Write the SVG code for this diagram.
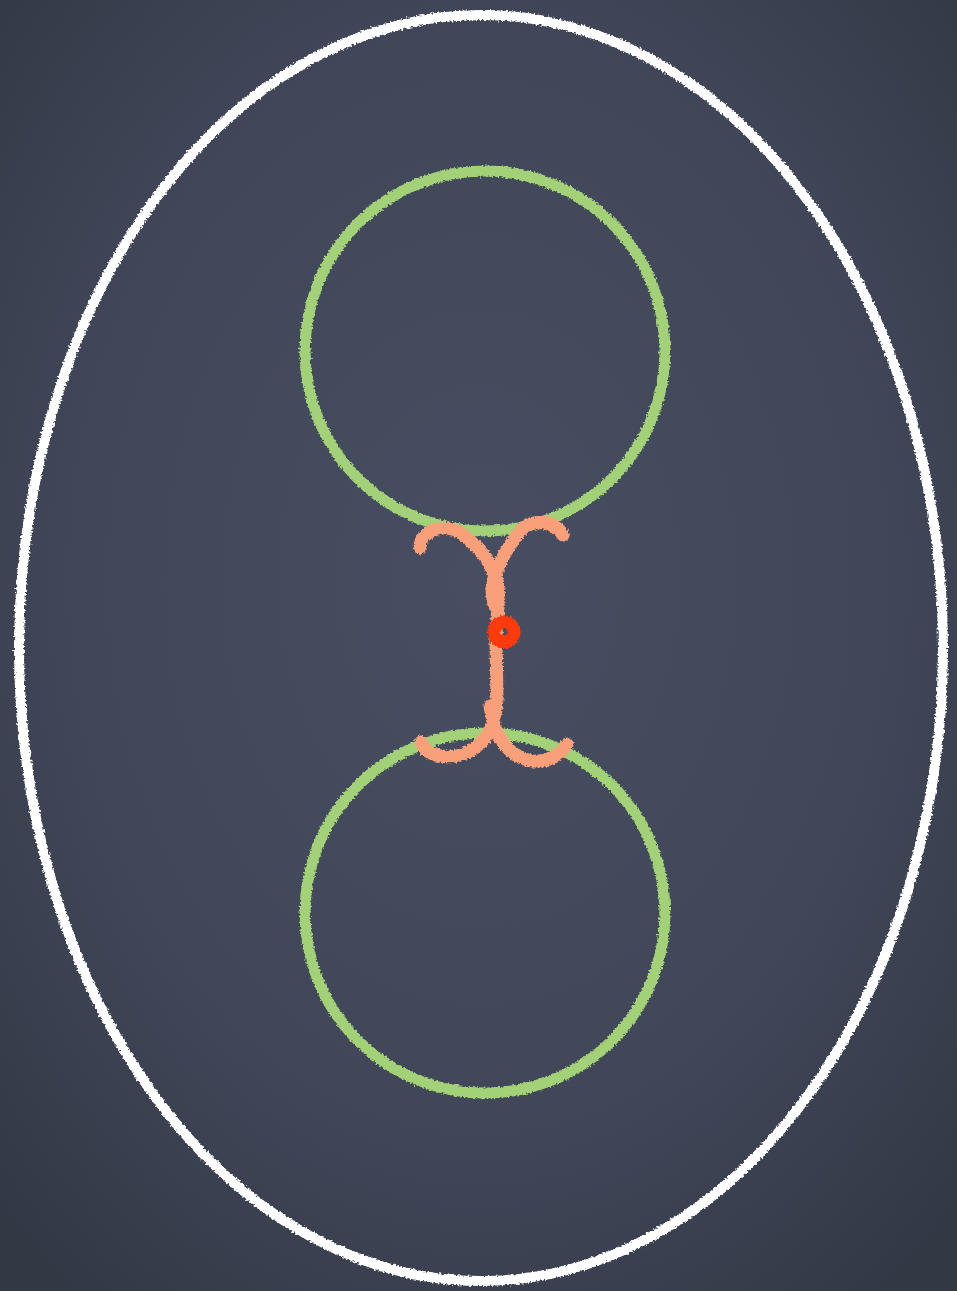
<svg xmlns="http://www.w3.org/2000/svg" width="957" height="1291" viewBox="0 0 957 1291">
  <defs>
    <radialGradient id="bg" cx="50%" cy="45%" r="70%">
      <stop offset="0" stop-color="#474e61"/>
      <stop offset="0.6" stop-color="#414759"/>
      <stop offset="1" stop-color="#333845"/>
    </radialGradient>
    <filter id="chalk" filterUnits="userSpaceOnUse" x="0" y="0" width="957" height="1291">
      <feTurbulence type="fractalNoise" baseFrequency="0.5" numOctaves="2" seed="3" result="n"/>
      <feDisplacementMap in="SourceGraphic" in2="n" scale="5" xChannelSelector="R" yChannelSelector="G"/>
    </filter>
    <style>
      .chalk { fill: none; stroke-linecap: round; stroke-linejoin: round; filter: url(#chalk); }
      .white { stroke: #ffffff; stroke-width: 10; }
      .green { stroke: #a3d177; stroke-width: 11; }
      .orange { stroke: #f9a07a; stroke-width: 13; }
      .red { stroke: #ff3a0c; stroke-width: 13; }
    </style>
  </defs>
  <rect width="957" height="1291" fill="url(#bg)"/>
  <g id="outer-ellipse">
    <ellipse class="chalk white" cx="481" cy="648" rx="462" ry="633"/>
  </g>
  <g id="top-circle">
    <circle class="chalk green" cx="485" cy="351" r="180"/>
  </g>
  <g id="bottom-circle">
    <circle class="chalk green" cx="485" cy="913" r="180"/>
  </g>
  <g id="connectors">
    <path class="chalk orange" d="M420,548 C420,530 446,522 462,534 C480,548 492,562 498,585 C500,600 496,620 496,640 L497,700 C495,724 488,742 468,752 C452,760 426,758 421,742"/>
    <path class="chalk orange" d="M563,535 C555,521 532,518 521,530 C509,545 500,560 494,578 C490,590 493,600 494,605"/>
    <path class="chalk orange" d="M490,706 C494,734 506,754 528,760 C546,765 561,754 567,744"/>
  </g>
  <g id="red-dot">
    <circle class="chalk red" cx="504" cy="632" r="10"/>
  </g>
</svg>
